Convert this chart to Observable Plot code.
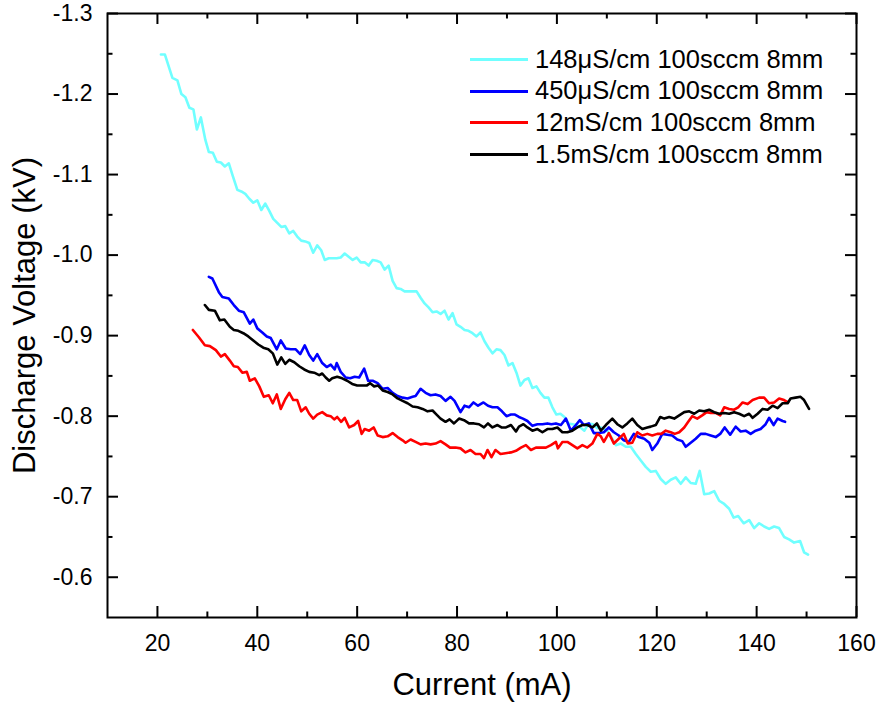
<!DOCTYPE html>
<html>
<head>
<meta charset="utf-8">
<script src="https://cdn.jsdelivr.net/npm/d3@7"></script>
<script src="https://cdn.jsdelivr.net/npm/@observablehq/plot@0.6"></script>
<style>
  body { margin: 0; background: #fff; }
  #chart { position: relative; width: 878px; height: 708px; font-family: "Liberation Sans", Arial, sans-serif; }
  #legend { position: absolute; left: 470px; top: 43.5px; }
  #legend .row { display: flex; align-items: center; height: 31.7px; }
  #legend .swatch { width: 58px; height: 3px; margin-right: 7px; }
  #legend span { font-size: 25.5px; color: #000; white-space: nowrap; line-height: 1; }
</style>
</head>
<body>
<div id="chart"></div>
<script>
// Discharge voltage (kV) against current (mA), one series per solution conductivity
const seriesNames = ["148μS/cm 100sccm 8mm", "450μS/cm 100sccm 8mm", "12mS/cm 100sccm 8mm", "1.5mS/cm 100sccm 8mm"];
const seriesColors = ["#70ffff", "#0000ff", "#ff0000", "#000000"];

const cond148uS = [
  [20.7,-1.249],[21.5,-1.249],[23.0,-1.220],[24.0,-1.217],[24.8,-1.200],[25.6,-1.196],[26.4,-1.183],[27.2,-1.181],
  [27.9,-1.156],[28.7,-1.171],[29.6,-1.143],[30.3,-1.128],[31.1,-1.127],[31.9,-1.116],[32.7,-1.115],[33.5,-1.110],
  [34.3,-1.114],[35.1,-1.098],[36.0,-1.081],[36.8,-1.079],[37.6,-1.076],[38.4,-1.070],[39.2,-1.065],[40.0,-1.068],
  [40.8,-1.056],[41.6,-1.064],[42.4,-1.055],[43.2,-1.045],[44.0,-1.040],[44.8,-1.035],[45.6,-1.036],[46.4,-1.027],
  [47.2,-1.030],[48.0,-1.023],[48.8,-1.018],[49.6,-1.017],[50.4,-1.015],[51.2,-1.003],[52.0,-1.012],[52.8,-1.006],
  [53.5,-0.994],[54.3,-0.996],[55.1,-0.996],[55.9,-0.996],[56.7,-0.997],[57.5,-1.002],[58.3,-0.998],[59.1,-0.994],
  [59.9,-0.997],[60.7,-0.991],[61.5,-0.991],[62.3,-0.987],[63.1,-0.994],[63.9,-0.993],[64.7,-0.991],[65.5,-0.982],
  [66.3,-0.987],[67.1,-0.968],[67.9,-0.959],[68.7,-0.958],[69.5,-0.955],[70.3,-0.955],[71.1,-0.955],[71.9,-0.955],
  [72.7,-0.947],[73.5,-0.940],[74.3,-0.935],[75.1,-0.929],[75.9,-0.930],[76.7,-0.927],[77.5,-0.931],[78.3,-0.920],
  [79.1,-0.928],[79.9,-0.914],[80.7,-0.911],[81.5,-0.907],[82.3,-0.906],[83.1,-0.903],[83.9,-0.899],[84.7,-0.904],
  [85.5,-0.893],[86.3,-0.885],[87.1,-0.878],[87.9,-0.883],[88.7,-0.882],[89.5,-0.876],[90.3,-0.863],[91.1,-0.866],
  [91.9,-0.854],[92.7,-0.838],[93.5,-0.845],[94.3,-0.847],[95.1,-0.835],[95.9,-0.837],[96.7,-0.829],[97.5,-0.823],
  [98.3,-0.823],[99.1,-0.811],[99.9,-0.802],[100.7,-0.803],[101.5,-0.799],[102.3,-0.791],[103.1,-0.790],[103.9,-0.789],
  [104.7,-0.786],[105.5,-0.782],[106.4,-0.791],[107.2,-0.790],[108.1,-0.785],[108.8,-0.786],[110.1,-0.782],[110.7,-0.776],
  [111.8,-0.764],[112.8,-0.766],[113.8,-0.762],[114.8,-0.762],[115.8,-0.753],[116.8,-0.745],[117.8,-0.737],[118.8,-0.731],
  [119.8,-0.732],[120.8,-0.722],[121.8,-0.716],[122.8,-0.721],[123.8,-0.724],[124.8,-0.716],[125.8,-0.724],[126.8,-0.717],
  [127.8,-0.716],[128.6,-0.732],[129.5,-0.703],[130.5,-0.704],[131.5,-0.707],[132.5,-0.695],[133.5,-0.691],[134.5,-0.685],
  [135.4,-0.674],[136.3,-0.676],[137.4,-0.667],[138.5,-0.671],[139.5,-0.661],[140.5,-0.667],[141.5,-0.663],[142.5,-0.660],
  [143.5,-0.663],[144.5,-0.661],[145.5,-0.650],[146.5,-0.647],[147.5,-0.643],[148.7,-0.645],[149.5,-0.631],[150.3,-0.628]
];

const cond450uS = [
  [30.3,-0.973],[31.0,-0.971],[32.3,-0.954],[33.0,-0.948],[34.3,-0.946],[35.3,-0.938],[36.3,-0.931],[37.3,-0.929],
  [38.5,-0.915],[39.2,-0.920],[40.0,-0.909],[41.0,-0.904],[41.9,-0.899],[42.7,-0.897],[43.9,-0.883],[44.7,-0.894],
  [45.7,-0.884],[46.7,-0.883],[47.7,-0.883],[48.6,-0.877],[49.5,-0.888],[50.4,-0.876],[51.2,-0.869],[52.0,-0.877],
  [53.0,-0.866],[53.9,-0.861],[54.7,-0.864],[55.5,-0.858],[55.9,-0.866],[56.7,-0.855],[57.7,-0.848],[58.6,-0.847],
  [59.5,-0.849],[60.4,-0.848],[61.4,-0.859],[62.2,-0.844],[63.1,-0.844],[64.1,-0.841],[65.1,-0.834],[66.1,-0.835],
  [67.1,-0.829],[68.1,-0.825],[69.1,-0.823],[70.1,-0.822],[71.1,-0.824],[71.7,-0.825],[72.7,-0.834],[73.7,-0.829],
  [74.7,-0.826],[75.7,-0.827],[76.7,-0.825],[77.7,-0.819],[78.7,-0.824],[79.5,-0.819],[80.7,-0.805],[81.5,-0.813],
  [82.4,-0.811],[83.3,-0.817],[84.2,-0.813],[85.3,-0.817],[86.2,-0.813],[87.1,-0.811],[88.1,-0.811],[89.0,-0.806],
  [89.9,-0.800],[90.8,-0.802],[91.6,-0.802],[92.4,-0.799],[93.2,-0.797],[94.1,-0.794],[95.1,-0.788],[96.1,-0.790],
  [97.1,-0.790],[98.1,-0.791],[98.9,-0.790],[99.8,-0.791],[100.8,-0.789],[101.8,-0.797],[102.8,-0.782],[103.8,-0.789],
  [104.6,-0.795],[105.4,-0.789],[106.4,-0.791],[107.4,-0.779],[108.4,-0.779],[109.4,-0.780],[110.4,-0.786],[111.4,-0.780],
  [112.4,-0.776],[113.4,-0.770],[114.4,-0.768],[115.4,-0.778],[116.4,-0.774],[117.5,-0.772],[118.5,-0.767],[119.1,-0.758],
  [120.1,-0.766],[121.1,-0.778],[122.1,-0.777],[123.1,-0.776],[124.1,-0.771],[125.1,-0.769],[125.8,-0.762],[126.8,-0.767],
  [127.8,-0.772],[128.8,-0.778],[129.8,-0.778],[130.8,-0.776],[131.8,-0.774],[132.7,-0.778],[133.6,-0.786],[134.7,-0.777],
  [135.8,-0.787],[136.8,-0.781],[137.8,-0.782],[138.8,-0.778],[139.8,-0.782],[140.8,-0.784],[141.8,-0.790],[142.5,-0.798],
  [143.4,-0.789],[144.2,-0.797],[145.2,-0.794],[145.7,-0.793]
];

const cond12mS = [
  [27.1,-0.907],[28.3,-0.898],[29.5,-0.888],[30.5,-0.887],[31.7,-0.882],[32.7,-0.874],[33.5,-0.877],[34.5,-0.869],
  [35.3,-0.862],[36.1,-0.861],[37.0,-0.854],[37.9,-0.855],[38.5,-0.844],[39.5,-0.847],[40.4,-0.837],[41.3,-0.824],
  [42.3,-0.826],[43.1,-0.816],[43.9,-0.827],[44.7,-0.809],[45.6,-0.821],[46.4,-0.829],[47.2,-0.820],[48.0,-0.820],
  [48.8,-0.806],[49.7,-0.811],[50.4,-0.803],[51.2,-0.797],[52.0,-0.802],[53.0,-0.805],[53.9,-0.801],[54.7,-0.800],
  [55.4,-0.796],[56.0,-0.799],[56.8,-0.793],[57.5,-0.798],[58.4,-0.786],[59.4,-0.789],[60.2,-0.794],[60.9,-0.778],
  [61.5,-0.784],[62.4,-0.782],[63.3,-0.786],[64.1,-0.776],[65.1,-0.774],[66.1,-0.775],[67.1,-0.779],[68.1,-0.774],
  [69.1,-0.770],[69.7,-0.767],[70.7,-0.771],[71.7,-0.768],[72.7,-0.765],[73.7,-0.766],[74.7,-0.765],[75.7,-0.766],
  [76.7,-0.769],[77.7,-0.765],[78.6,-0.761],[79.7,-0.761],[80.7,-0.760],[81.7,-0.755],[82.7,-0.758],[83.7,-0.753],
  [84.7,-0.753],[85.4,-0.748],[86.1,-0.758],[86.9,-0.749],[87.7,-0.758],[88.7,-0.753],[89.7,-0.754],[90.8,-0.755],
  [91.8,-0.757],[92.8,-0.761],[93.8,-0.764],[94.8,-0.758],[95.8,-0.761],[96.8,-0.761],[97.8,-0.761],[98.8,-0.764],
  [99.8,-0.768],[100.2,-0.760],[101.1,-0.768],[102.1,-0.768],[103.1,-0.764],[104.1,-0.760],[105.1,-0.764],[106.1,-0.761],
  [107.1,-0.766],[108.1,-0.778],[108.8,-0.775],[109.4,-0.768],[110.4,-0.779],[111.4,-0.766],[112.4,-0.772],[113.4,-0.778],
  [114.2,-0.766],[115.1,-0.767],[116.1,-0.780],[117.1,-0.776],[118.1,-0.778],[119.1,-0.776],[120.1,-0.778],[120.9,-0.778],
  [121.8,-0.782],[122.8,-0.780],[123.6,-0.778],[124.5,-0.780],[125.5,-0.786],[126.3,-0.793],[127.1,-0.800],[128.1,-0.797],
  [129.1,-0.801],[130.0,-0.805],[130.8,-0.804],[131.8,-0.804],[132.7,-0.801],[133.5,-0.811],[134.5,-0.809],[135.5,-0.808],
  [136.3,-0.811],[137.2,-0.817],[138.2,-0.815],[139.2,-0.820],[140.5,-0.823],[141.5,-0.823],[142.5,-0.816],[143.5,-0.817],
  [144.5,-0.822],[145.5,-0.820],[146.3,-0.817]
];

const cond1p5mS = [
  [29.5,-0.938],[30.3,-0.932],[31.5,-0.931],[32.5,-0.919],[33.4,-0.920],[34.5,-0.911],[35.3,-0.907],[36.2,-0.906],
  [37.2,-0.903],[38.2,-0.899],[39.2,-0.894],[40.2,-0.889],[41.2,-0.885],[42.2,-0.883],[43.1,-0.878],[44.0,-0.864],
  [44.8,-0.873],[45.6,-0.865],[46.4,-0.870],[47.4,-0.867],[48.4,-0.862],[49.4,-0.858],[50.4,-0.855],[51.4,-0.854],
  [52.4,-0.851],[53.0,-0.853],[53.7,-0.848],[54.4,-0.844],[55.0,-0.847],[56.0,-0.849],[57.0,-0.847],[58.0,-0.844],
  [59.0,-0.840],[60.0,-0.838],[61.1,-0.838],[61.9,-0.838],[62.6,-0.841],[63.4,-0.837],[64.2,-0.838],[65.1,-0.832],
  [66.1,-0.830],[67.1,-0.827],[68.1,-0.822],[69.1,-0.819],[70.1,-0.816],[71.1,-0.812],[72.1,-0.811],[73.1,-0.809],
  [74.1,-0.806],[75.1,-0.807],[75.9,-0.802],[76.7,-0.797],[77.7,-0.793],[78.5,-0.796],[79.4,-0.791],[80.4,-0.797],
  [81.4,-0.795],[82.4,-0.791],[83.4,-0.791],[84.4,-0.790],[85.4,-0.786],[86.2,-0.791],[87.1,-0.786],[88.1,-0.789],
  [88.9,-0.786],[89.8,-0.786],[90.8,-0.789],[91.8,-0.781],[92.4,-0.787],[93.3,-0.790],[94.1,-0.786],[95.1,-0.782],
  [96.1,-0.784],[97.1,-0.780],[98.1,-0.784],[99.1,-0.784],[100.1,-0.786],[101.1,-0.780],[102.1,-0.780],[103.1,-0.782],
  [104.1,-0.786],[105.1,-0.789],[106.1,-0.789],[107.1,-0.786],[108.0,-0.791],[108.8,-0.782],[109.8,-0.789],[111.1,-0.797],
  [112.1,-0.790],[113.1,-0.786],[114.1,-0.791],[115.1,-0.797],[116.1,-0.789],[117.1,-0.784],[118.1,-0.786],[118.8,-0.787],
  [119.8,-0.789],[120.7,-0.799],[121.5,-0.797],[122.5,-0.799],[123.5,-0.797],[124.5,-0.801],[125.5,-0.805],[126.5,-0.806],
  [127.5,-0.803],[128.5,-0.807],[129.5,-0.806],[130.5,-0.808],[131.5,-0.805],[132.5,-0.803],[133.5,-0.804],[134.5,-0.803],
  [135.5,-0.805],[136.5,-0.803],[137.5,-0.800],[138.5,-0.803],[139.2,-0.798],[140.2,-0.803],[141.2,-0.809],[142.2,-0.808],
  [143.2,-0.813],[144.2,-0.810],[145.2,-0.816],[146.2,-0.816],[146.8,-0.822],[147.8,-0.823],[148.8,-0.824],[149.5,-0.820],
  [150.5,-0.809]
];

const series = [cond148uS, cond450uS, cond12mS, cond1p5mS];

// Axis ticks
const xMajor = [20, 40, 60, 80, 100, 120, 140, 160];
const xMinor = [30, 50, 70, 90, 110, 130, 150];
const yMajor = [-1.3, -1.2, -1.1, -1.0, -0.9, -0.8, -0.7, -0.6];
const yMinor = [-1.25, -1.15, -1.05, -0.95, -0.85, -0.75, -0.65];
const xTitle = "Current (mA)";
const yTitle = "Discharge Voltage (kV)";

const W = 878, H = 708;
const mL = 107, mR = 22, mT = 13, mB = 91;
const frameW = W - mL - mR, frameH = H - mT - mB;
const majorLen = 11, minorLen = 5.5;

const lineMarks = series.map((data, i) =>
  Plot.line(data, {x: d => d[0], y: d => d[1], stroke: seriesColors[i], strokeWidth: 2.6, strokeLinejoin: "round"})
);

const tickStyle = {stroke: "#000", strokeWidth: 2, strokeLinecap: "butt"};

const chart = Plot.plot({
  width: W,
  height: H,
  marginLeft: mL,
  marginRight: mR,
  marginTop: mT,
  marginBottom: mB,
  style: {fontFamily: "'Liberation Sans', Arial, sans-serif", background: "#fff", color: "#000", overflow: "visible"},
  x: {domain: [10, 160]},
  y: {domain: [-0.55, -1.3]},
  marks: [
    ...lineMarks,
    // inward ticks on all four sides
    Plot.tickX(xMajor, {x: d => d, insetTop: frameH - majorLen, ...tickStyle}),
    Plot.tickX(xMinor, {x: d => d, insetTop: frameH - minorLen, ...tickStyle}),
    Plot.tickX(xMajor, {x: d => d, insetBottom: frameH - majorLen, ...tickStyle}),
    Plot.tickX(xMinor, {x: d => d, insetBottom: frameH - minorLen, ...tickStyle}),
    Plot.tickY(yMajor, {y: d => d, insetRight: frameW - majorLen, ...tickStyle}),
    Plot.tickY(yMinor, {y: d => d, insetRight: frameW - minorLen, ...tickStyle}),
    Plot.tickY(yMajor, {y: d => d, insetLeft: frameW - majorLen, ...tickStyle}),
    Plot.tickY(yMinor, {y: d => d, insetLeft: frameW - minorLen, ...tickStyle}),
    Plot.frame({stroke: "#000", strokeWidth: 2}),
    Plot.axisX({ticks: xMajor, tickSize: 0, tickPadding: 17, fontSize: 23, label: null, tickFormat: d => String(d)}),
    Plot.axisY({ticks: yMajor, tickSize: 0, tickPadding: 15, fontSize: 23, label: null, tickFormat: d => d.toFixed(1)}),
    Plot.text([xTitle], {text: d => d, frameAnchor: "bottom", textAnchor: "middle", dy: 77, fontSize: 31, fill: "#000"}),
    Plot.text([yTitle], {text: d => d, frameAnchor: "left", textAnchor: "middle", dx: -82, rotate: -90, fontSize: 31, fill: "#000"})
  ]
});

const root = document.getElementById("chart");
root.appendChild(chart);

// Legend inside the plot area, top right
const legend = d3.select(root).append("div").attr("id", "legend");
const rows = legend.selectAll("div.row").data(seriesNames).join("div").attr("class", "row");
rows.append("div").attr("class", "swatch").style("background", (d, i) => seriesColors[i]);
rows.append("span").text(d => d);
</script>
</body>
</html>
